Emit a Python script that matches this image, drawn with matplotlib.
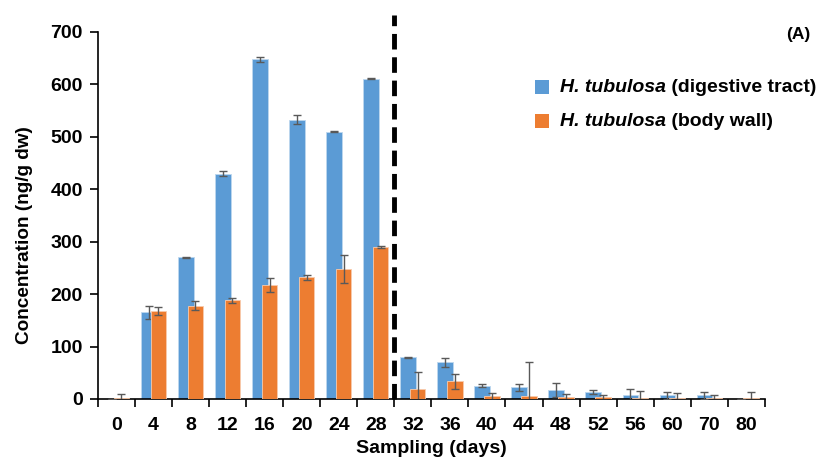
import matplotlib
matplotlib.use("Agg")
import matplotlib.pyplot as plt
import numpy as np
from matplotlib.offsetbox import AnchoredOffsetbox, HPacker, TextArea, DrawingArea
from matplotlib.patches import Rectangle

plt.rcParams['font.family'] = ['Liberation Sans', 'DejaVu Sans']

days = ["0", "4", "8", "12", "16", "20", "24", "28", "32", "36", "40", "44",
        "48", "52", "56", "60", "70", "80"]
digestive = [0, 165, 270, 430, 648, 533, 510, 611, 80, 70, 25, 22, 17, 13, 8, 7, 7, 0]
digestive_err = [0, 12, 1, 5, 5, 9, 1, 1, 1, 9, 3, 7, 14, 4, 12, 7, 7, 0]
body_wall = [2, 168, 178, 188, 217, 232, 248, 290, 19, 34, 5, 5, 3, 3, 2, 2, 2, 2]
body_wall_err = [8, 7, 8, 5, 13, 5, 27, 2, 33, 14, 7, 66, 6, 5, 13, 9, 5, 12]
series_names = ["(digestive tract)", "(body wall)"]

blue = "#5B9BD5"
orange = "#ED7D31"
err_color = "#595959"

fig = plt.figure(figsize=(8.25, 4.61), dpi=100)
ax = fig.add_axes([0.1188, 0.1345, 0.8082, 0.7961])

x = np.arange(len(days))
w = 0.42
ax.bar(x - 0.13, digestive, w, color=blue, edgecolor="#BDD7EE", linewidth=0.6, zorder=2)
ax.errorbar(x - 0.13, digestive, yerr=digestive_err, fmt="none", ecolor=err_color,
            elinewidth=1, capsize=3, capthick=1, zorder=3)
ax.bar(x + 0.13, body_wall, w, color=orange, edgecolor="#F8CBAD", linewidth=0.6, zorder=4)
ax.errorbar(x + 0.13, body_wall, yerr=body_wall_err, fmt="none", ecolor=err_color,
            elinewidth=1, capsize=3, capthick=1, zorder=5)

ax.set_xlim(-0.5, len(days) - 0.5)
ax.set_ylim(0, 700)
ax.set_yticks(np.arange(0, 701, 100))
ax.set_xticks(x)
ax.set_xticklabels(days)
ax.set_xticks(np.arange(-0.5, len(days), 1.0), minor=True)
ax.tick_params(axis="x", which="major", length=0, pad=13)
ax.tick_params(axis="x", which="minor", length=6, width=1.2, direction="out")
ax.tick_params(axis="y", length=6, width=1.2, direction="out", pad=5)
for lab in ax.get_xticklabels() + ax.get_yticklabels():
    lab.set_fontsize(14)
    lab.set_fontweight("bold")

for s in ["top", "right"]:
    ax.spines[s].set_visible(False)
for s in ["left", "bottom"]:
    ax.spines[s].set_linewidth(1.2)
    ax.spines[s].set_color("black")

ax.set_ylabel("Concentration (ng/g dw)", fontsize=13.7, fontweight="bold")
ax.yaxis.set_label_coords(-0.098, 0.447)
ax.set_xlabel("Sampling (days)", fontsize=14, fontweight="bold")
ax.xaxis.set_label_coords(0.5, -0.112)

# exposure / depuration boundary
ax.plot([7.5, 7.5], [0, 733], color="black", linewidth=3.5, linestyle=(0, (3.2, 1.6)),
        clip_on=False, zorder=6)

# legend rows with italic species name followed by the tissue
for color, tail, ypix in [(blue, series_names[0], 87), (orange, series_names[1], 121)]:
    da = DrawingArea(10, 10, 0, 0)
    da.add_artist(Rectangle((0, 0), 10, 10, facecolor=color, edgecolor="none"))
    t1 = TextArea("H. tubulosa", textprops=dict(fontsize=14, fontweight="bold", fontstyle="italic"))
    t2 = TextArea(" " + tail, textprops=dict(fontsize=14, fontweight="bold"))
    txt = HPacker(children=[t1, t2], align="baseline", pad=0, sep=0)
    row = HPacker(children=[da, txt], align="center", pad=0, sep=8)
    anchored = AnchoredOffsetbox(loc="center left", child=row, frameon=False,
                                 bbox_to_anchor=(535 / 825, 1 - ypix / 461),
                                 bbox_transform=fig.transFigure, borderpad=0, pad=0)
    fig.add_artist(anchored)

fig.text(798 / 825, 1 - 35 / 461, "(A)", fontsize=12.5, fontweight="bold", ha="center", va="center")

fig.savefig("out.png", dpi=100)
